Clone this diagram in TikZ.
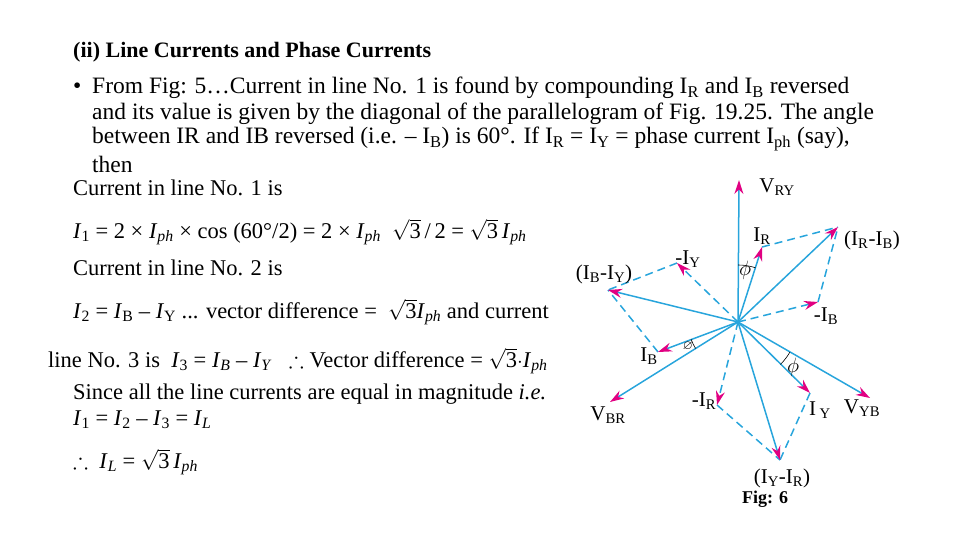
\documentclass[tikz,border=0pt]{standalone}
\usepackage{amssymb}
\usepackage{fontspec}
\setmainfont{Liberation Serif}
\usetikzlibrary{arrows.meta,calc}
\definecolor{vb}{RGB}{40,165,220}
\definecolor{vm}{RGB}{225,0,130}
\newcommand{\vi}[1]{\textit{#1}}
\begin{document}
\begin{tikzpicture}[x=1pt,y=-1pt,
  txt/.style={anchor=west,inner sep=0pt,font=\fontsize{23.5}{27}\selectfont},
  ltxt/.style={anchor=west,inner sep=0pt,font=\fontsize{22.5}{26}\selectfont},
  lbl/.style={inner sep=1pt,font=\fontsize{21}{24}\selectfont},
  vec/.style={vb,line width=1.5pt,-{Stealth[length=14pt,width=9pt,vm]}},
  dvec/.style={vec,dash pattern=on 8pt off 5pt},
  dl/.style={vb,line width=1.5pt,dash pattern=on 8pt off 5pt}]
\useasboundingbox (0,0) rectangle (960,540);
\node[txt,font=\bfseries\fontsize{22}{26}\selectfont] (t0) at (73,52) {(ii) Line Currents and Phase Currents};
\node[txt] (b) at (73,88) {\textbullet};
\node[txt] (t1) at (92,88) {From Fig: 5\dots Current in line No. 1 is found by compounding I\textsubscript{R} and I\textsubscript{B} reversed};
\node[txt] (t2) at (92,114) {and its value is given by the diagonal of the parallelogram of Fig. 19.25. The angle};
\node[txt] (t3) at (92,139) {between IR and IB reversed (i.e. -- I\textsubscript{B}) is 60°. If I\textsubscript{R} = I\textsubscript{Y} = phase current I\textsubscript{ph} (say),};
\node[txt] (t4) at (92,164) {then};
\node[ltxt] (l1) at (73,188) {Current in line No. 1 is};
\node[ltxt] (l2) at (73,232) {\vi{I}\textsubscript{1} = 2 × \vi{I}\textsubscript{\vi{ph}} × cos (60°/2) = 2 × \vi{I}\textsubscript{\vi{ph}}\ \ $\sqrt{\mbox{3}}$\,/\,2 = $\sqrt{\mbox{3}}$\,\vi{I}\textsubscript{\vi{ph}}};
\node[ltxt] (l3) at (73,268) {Current in line No. 2 is};
\node[ltxt] (l4) at (73,312) {\vi{I}\textsubscript{2} = \vi{I}\textsubscript{B} -- \vi{I}\textsubscript{Y} ... vector difference =\ \ $\sqrt{\mbox{3}}$\vi{I}\textsubscript{\vi{ph}} and current};
\node[ltxt] (l5) at (48,361) {line No. 3 is\ \ \vi{I}\textsubscript{3} = \vi{I}\textsubscript{\vi{B}} -- \vi{I}\textsubscript{\vi{Y}}\ \ \ $\therefore$ Vector difference = $\sqrt{\mbox{3}}\cdot$\vi{I}\textsubscript{\vi{ph}}};
\node[ltxt] (l6) at (73,394) {Since all the line currents are equal in magnitude \textit{i.e.}};
\node[ltxt] (l7) at (73,420) {\vi{I}\textsubscript{1} = \vi{I}\textsubscript{2} -- \vi{I}\textsubscript{3} = \vi{I}\textsubscript{\vi{L}}};
\node[ltxt] (l8) at (73,462) {$\therefore$\ \ \vi{I}\textsubscript{\vi{L}} = $\sqrt{\mbox{3}}$\,\vi{I}\textsubscript{\vi{ph}}};
% diagram
\coordinate (O) at (738,322);
\coordinate (VRY) at (739,180);
\coordinate (IR) at (762,247);
\coordinate (IRB) at (838,227);
\coordinate (mIB) at (818,302);
\coordinate (mIY) at (677,263);
\coordinate (IBY) at (608,290);
\coordinate (IB) at (658,352);
\coordinate (VBR) at (610,402);
\coordinate (mIR) at (717,405);
\coordinate (IYR) at (780,460);
\coordinate (IY) at (810,393);
\coordinate (VYB) at (870,398);
\draw[dl] (IR) -- (IRB) (mIB) -- (IRB) (mIY) -- (IBY) (IB) -- (IBY) (mIR) -- (IYR) (IY) -- (IYR);
\foreach \p in {VRY,IR,IRB,IBY,IB,VBR,IYR,IY,VYB} \draw[vec] (O) -- (\p);
\foreach \p in {mIY,mIB,mIR} \draw[dvec] (O) -- (\p);
\draw[line width=0.6pt] ($(O)+(90:57pt)$) arc[start angle=90,end angle=72,radius=57pt];
\draw[line width=0.6pt] ($(O)+(200:50pt)$) arc[start angle=200,end angle=212,radius=50pt];
\draw[line width=0.6pt] ($(O)+(-30:60pt)$) arc[start angle=-30,end angle=-45,radius=60pt];
\node[lbl] (vry) at (777,187) {V\textsubscript{RY}};
\node[lbl] (ir) at (762,236) {I\textsubscript{R}};
\node[lbl] (irb) at (872,240) {(I\textsubscript{R}-I\textsubscript{B})};
\node[lbl] (miy) at (688,259) {-I\textsubscript{Y}};
\node[lbl] (iby) at (604,274) {(I\textsubscript{B}-I\textsubscript{Y})};
\node[lbl] (phi1) at (745,270) {$\phi$};
\node[lbl] (mib) at (826,316) {-I\textsubscript{B}};
\node[lbl] (ib) at (649,356) {I\textsubscript{B}};
\node[lbl,font=\fontsize{13}{15}\selectfont] (phi2) at (688,346) {$\varnothing$};
\node[lbl] (phi3) at (793,367) {$\phi$};
\node[lbl] (vbr) at (608,415) {V\textsubscript{BR}};
\node[lbl] (mir) at (704,401) {-I\textsubscript{R}};
\node[lbl] (iy) at (820,410) {I\,\textsubscript{Y}};
\node[lbl] (vyb) at (862,408) {V\textsubscript{YB}};
\node[lbl] (iyr) at (782,478) {(I\textsubscript{Y}-I\textsubscript{R})};
\node[font=\bfseries\fontsize{18}{20}\selectfont] (fig) at (765,499) {Fig: 6};
\end{tikzpicture}
\end{document}
